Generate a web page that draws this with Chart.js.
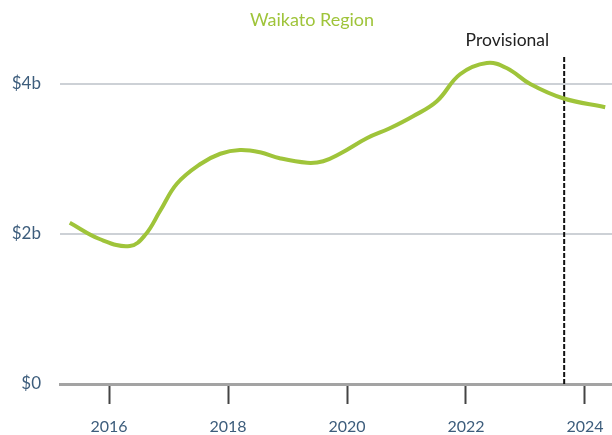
<!DOCTYPE html>
<html>
<head>
<meta charset="utf-8">
<script src="https://cdn.jsdelivr.net/npm/chart.js@4"></script>
<style>
  html, body { margin: 0; padding: 0; background: #fff; }
  #wrap { width: 612px; height: 435px; }
</style>
</head>
<body>
<div id="wrap"><canvas id="chart" width="612" height="435"></canvas></div>
<script>
// Waikato Region - values in $ billions

const years = [2015.34, 2015.85, 2016.35, 2016.61, 2016.86, 2017.14, 2017.53, 2017.87,
  2018.20, 2018.54, 2018.87, 2019.33, 2019.60, 2019.88, 2020.34, 2020.72,
  2021.11, 2021.51, 2021.90, 2022.35, 2022.69, 2023.08, 2023.63, 2024.34];
const values = [2.15, 1.93, 1.84, 1.99, 2.31, 2.67, 2.93, 3.07,
  3.12, 3.09, 3.01, 2.95, 2.97, 3.07, 3.28, 3.41,
  3.57, 3.77, 4.13, 4.28, 4.21, 4.00, 3.81, 3.69];

const xTicks = [2016, 2018, 2020, 2022, 2024];
const yTicks = [0, 2, 4];
const yTickLabels = ['$0', '$2b', '$4b'];

const provisionalYear = 2023.65;
const provisionalTop = 4.37;

const green = '#9fc43a';
const labelColor = '#3d5d7c';
const fontFamily = 'Lato, "Open Sans", sans-serif';

// text above the chart: title + "Provisional" label
const textPlugin = {
  id: 'texts',
  afterDraw(chart) {
    const ctx = chart.ctx;
    const x = chart.scales.x.getPixelForValue(provisionalYear);
    ctx.save();
    ctx.textBaseline = 'middle';
    ctx.font = '18px ' + fontFamily;
    ctx.fillStyle = green;
    ctx.textAlign = 'center';
    ctx.fillText('Waikato Region', 312, 20);
    ctx.font = '17.5px ' + fontFamily;
    ctx.fillStyle = '#222';
    ctx.textAlign = 'right';
    ctx.fillText('Provisional', x - 15, 40);
    ctx.restore();
  }
};

new Chart(document.getElementById('chart'), {
  type: 'line',
  data: {
    datasets: [{
      data: years.map((y, i) => ({ x: y, y: values[i] })),
      borderColor: green,
      borderWidth: 4,
      pointRadius: 0,
      tension: 0.4,
      fill: false
    }, {
      data: [{ x: provisionalYear, y: 0 }, { x: provisionalYear, y: provisionalTop }],
      borderColor: '#111',
      borderWidth: 2,
      borderDash: [5, 2],
      pointRadius: 0
    }]
  },
  options: {
    responsive: false,
    animation: false,
    layout: { autoPadding: false, padding: { top: 54, right: 0, left: 0, bottom: 0 } },
    plugins: {
      legend: { display: false },
      title: { display: false },
      tooltip: { enabled: false }
    },
    scales: {
      x: {
        type: 'linear',
        min: 2015.176,
        max: 2024.454,
        afterBuildTicks: s => { s.ticks = xTicks.map(v => ({ value: v })); },
        afterFit: s => {
          s.height = 51;
          s.paddingLeft = 0;
          s.paddingRight = 0;
        },
        grid: {
          drawOnChartArea: false,
          drawTicks: true,
          tickLength: 20,
          tickWidth: 2,
          tickColor: '#444'
        },
        border: { display: true, color: '#a3a3a3', width: 3 },
        ticks: {
          padding: 13,
          color: labelColor,
          font: { family: fontFamily, size: 16 },
          maxRotation: 0,
          callback: v => String(v)
        }
      },
      y: {
        min: 0,
        max: 4.4,
        afterBuildTicks: s => { s.ticks = yTicks.map(v => ({ value: v })); },
        afterFit: s => {
          s.width = 60;
          s.paddingTop = 0;
          s.paddingBottom = 0;
        },
        grid: {
          drawTicks: false,
          color: c => c.tick && c.tick.value === 0 ? 'rgba(0,0,0,0)' : '#cdd1d6',
          lineWidth: 2
        },
        border: { display: false },
        ticks: {
          padding: 19,
          color: labelColor,
          font: { family: fontFamily, size: 17 },
          callback: (v) => yTickLabels[yTicks.indexOf(v)]
        }
      }
    }
  },
  plugins: [textPlugin]
});
</script>
</body>
</html>
